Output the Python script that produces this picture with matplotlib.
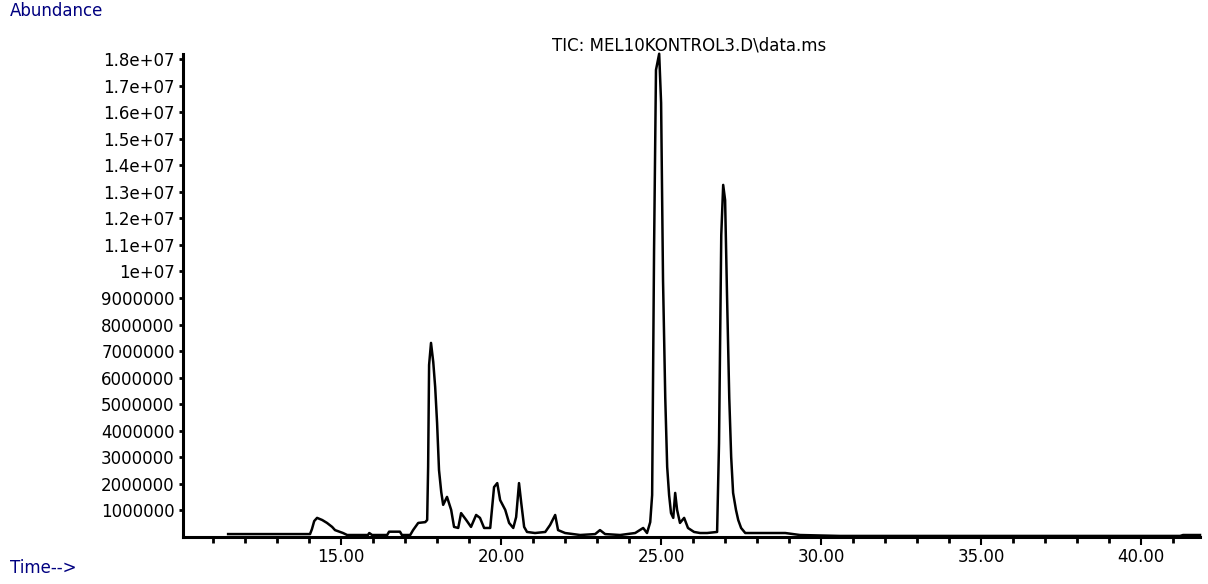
import matplotlib.pyplot as plt
from matplotlib.ticker import MultipleLocator

# retention time (min) and abundance
time = [11.47, 14.03, 14.09, 14.16, 14.25, 14.41, 14.56, 14.72, 14.81, 15.06,
        15.19, 15.84, 15.88, 15.97, 16.44, 16.50, 16.84, 16.90, 17.16, 17.25,
        17.41, 17.63, 17.69, 17.72, 17.75, 17.81, 17.88, 17.94, 18.00, 18.06,
        18.13, 18.19, 18.31, 18.44, 18.53, 18.66, 18.75, 18.91, 19.06, 19.22,
        19.34, 19.47, 19.66, 19.78, 19.88, 19.97, 20.13, 20.25, 20.38, 20.47,
        20.56, 20.63, 20.72, 20.81, 21.06, 21.38, 21.53, 21.69, 21.78, 22.00,
        22.47, 22.94, 23.09, 23.25, 23.72, 24.19, 24.44, 24.56, 24.66, 24.72,
        24.78, 24.84, 24.94, 25.00, 25.06, 25.13, 25.19, 25.25, 25.31, 25.38,
        25.44, 25.50, 25.59, 25.72, 25.84, 26.03, 26.22, 26.44, 26.75, 26.81,
        26.88, 26.94, 27.00, 27.06, 27.13, 27.19, 27.25, 27.34, 27.41, 27.50,
        27.63, 28.41, 28.88, 29.34, 30.59, 41.22, 41.31, 41.84]
abundance = [0.11, 0.11, 0.30, 0.60, 0.72, 0.64, 0.53, 0.38, 0.26, 0.15,
             0.075, 0.075, 0.15, 0.075, 0.075, 0.20, 0.20, 0.075, 0.075, 0.26,
             0.53, 0.56, 0.64, 2.64, 6.48, 7.31, 6.59, 5.65, 4.29, 2.52,
             1.69, 1.21, 1.51, 1.02, 0.38, 0.34, 0.90, 0.64, 0.38, 0.83,
             0.72, 0.34, 0.34, 1.88, 2.03, 1.39, 1.02, 0.53, 0.34, 0.75,
             2.03, 1.28, 0.38, 0.19, 0.15, 0.19, 0.45, 0.83, 0.26, 0.15,
             0.075, 0.11, 0.26, 0.11, 0.075, 0.15, 0.34, 0.15, 0.56, 1.58,
             10.81, 17.59, 18.20, 16.35, 9.68, 5.24, 2.64, 1.58, 0.90, 0.72,
             1.66, 1.02, 0.53, 0.72, 0.34, 0.19, 0.15, 0.15, 0.19, 3.54,
             11.37, 13.26, 12.69, 9.11, 5.24, 3.01, 1.66, 1.02, 0.64, 0.34,
             0.15, 0.15, 0.15, 0.075, 0.04, 0.04, 0.075, 0.075]
abundance = [a * 1e6 for a in abundance]

ytick_vals = [i * 1e6 for i in range(1, 19)]
ytick_labels = ['1000000', '2000000', '3000000', '4000000', '5000000',
                '6000000', '7000000', '8000000', '9000000', '1e+07',
                '1.1e+07', '1.2e+07', '1.3e+07', '1.4e+07', '1.5e+07',
                '1.6e+07', '1.7e+07', '1.8e+07']
xtick_vals = [15, 20, 25, 30, 35, 40]
xtick_labels = ['15.00', '20.00', '25.00', '30.00', '35.00', '40.00']

fig = plt.figure(figsize=(12.08, 5.84), dpi=100)
ax = fig.add_axes([183 / 1208, 47 / 584, 1017 / 1208, 483 / 584])

ax.plot(time, abundance, color='black', lw=1.8, clip_on=False)

ax.set_xlim(10.06, 41.84)
ax.set_ylim(0, 1.819e7)

for side in ['top', 'right']:
    ax.spines[side].set_visible(False)
for side in ['left', 'bottom']:
    ax.spines[side].set_linewidth(2.2)

ax.set_yticks(ytick_vals)
ax.set_yticklabels(ytick_labels)
ax.set_xticks(xtick_vals)
ax.set_xticklabels(xtick_labels)
ax.xaxis.set_minor_locator(MultipleLocator(1))

ax.tick_params(axis='y', length=3, width=2, pad=3, labelsize=12)
ax.tick_params(axis='x', which='major', length=6, width=1.5, pad=2, labelsize=12)
ax.tick_params(axis='x', which='minor', length=4, width=2)

fig.text(10 / 1208, 1 - 11 / 584, 'Abundance', color='#000080', fontsize=12,
         ha='left', va='center')
fig.text(10 / 1208, 1 - 568 / 584, 'Time-->', color='#000080', fontsize=12,
         ha='left', va='center')
fig.text(689 / 1208, 1 - 45 / 584, 'TIC: MEL10KONTROL3.D\\data.ms', color='black',
         fontsize=12, ha='center', va='center')

plt.savefig('out.png', dpi=100)
